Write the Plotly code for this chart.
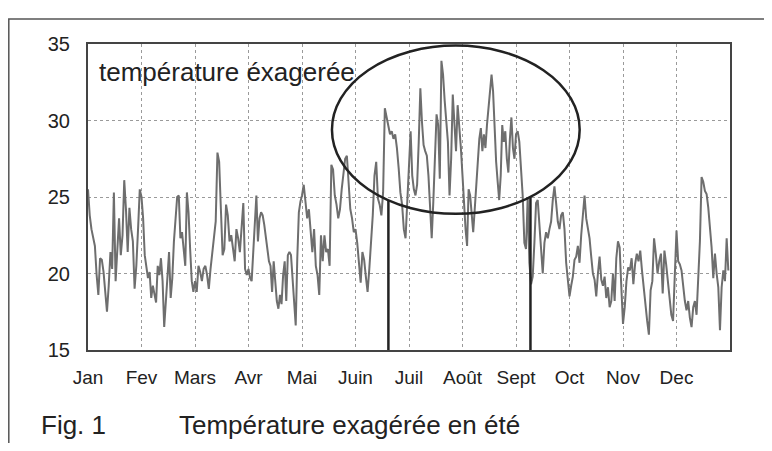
import math
import plotly.graph_objects as go

# ---- data ----
month_labels = ["Jan", "Fev", "Mars", "Avr", "Mai", "Juin", "Juil", "Août", "Sept", "Oct", "Nov", "Dec"]
y_ticks = [15, 20, 25, 30, 35]

jan = [25.5, 23.8, 22.9, 22.3, 21.8, 19.9, 18.6, 21.0, 20.9, 20.1, 19.0, 17.5, 19.2, 21.4, 20.3, 25.3,
       19.5, 22.1, 23.6, 21.2, 22.5, 26.1, 24.2, 21.4, 24.3, 22.9, 22.1, 19.0, 20.5, 22.9, 25.5]
feb = [25.0, 23.6, 21.2, 20.5, 19.7, 20.1, 18.4, 19.2, 18.6, 18.1, 20.5, 19.9, 21.0, 19.5, 16.5, 18.2,
       19.9, 21.4, 18.4, 19.7, 22.1, 23.6, 25.0, 25.1, 22.3, 22.7, 21.6, 20.5, 25.3, 24.0, 21.6, 19.5, 18.8]
mar = [19.5, 18.8, 20.5, 20.1, 19.5, 20.3, 20.5, 19.9, 19.0, 20.3, 21.4, 22.1, 23.4, 27.9, 27.3, 24.2,
       21.2, 21.6, 24.5, 23.8, 22.1, 22.5, 21.6, 20.8, 22.9, 22.3, 21.4, 22.9, 24.6, 20.3, 19.9]
apr = [20.3, 19.7, 19.5, 21.6, 23.6, 25.1, 22.1, 23.6, 24.0, 23.8, 23.2, 22.3, 21.6, 20.8, 20.5, 18.8,
       20.8, 19.5, 18.2, 17.7, 18.6, 18.0, 19.9, 20.8, 18.2, 21.2, 21.4, 21.2, 19.5, 18.0, 16.6, 21.0, 24.0, 24.7]
may = [25.1, 25.8, 24.9, 23.6, 24.2, 22.5, 21.4, 22.9, 20.5, 19.9, 18.6, 22.5, 20.8, 22.5, 21.4, 21.6,
       20.5, 27.1, 26.8, 25.1, 24.5, 23.6, 24.2, 25.5, 26.6, 27.5, 27.7, 25.8, 24.2, 23.6, 22.7]
jun = [22.9, 22.0, 20.7, 19.4, 21.4, 20.9, 19.8, 18.8, 20.3, 22.0, 23.8, 26.4, 27.3, 24.9, 24.5, 23.8,
       25.3, 30.8, 30.2, 29.5, 29.1, 29.3, 28.8, 29.1, 28.2, 26.9, 25.3, 24.5, 22.9, 22.3, 24.7]
jul = [26.9, 29.3, 26.4, 25.5, 25.1, 25.8, 28.6, 32.1, 29.9, 28.4, 28.0, 27.7, 26.4, 24.2, 22.3, 24.7,
       27.7, 30.4, 29.7, 26.2, 33.9, 33.0, 31.3, 29.9, 28.6, 25.1, 27.5, 31.7, 29.7, 28.0, 31.0, 29.7, 28.2]
aug = [26.4, 24.2, 22.9, 21.8, 25.5, 25.1, 23.8, 22.7, 24.2, 25.8, 27.7, 28.8, 29.5, 28.0, 29.1, 28.2,
       29.7, 30.8, 32.1, 33.0, 31.9, 29.3, 27.3, 26.0, 24.8, 26.4, 29.7, 28.6, 29.3, 27.5, 26.6, 28.8, 30.2, 28.2, 27.5]
sep = [29.1, 29.3, 28.6, 27.1, 25.1, 22.0, 21.6, 25.0, 20.7, 19.3, 19.8, 22.0, 24.6, 24.8, 22.9, 21.6,
       20.0, 22.0, 22.7, 22.3, 22.9, 23.4, 24.8, 25.7, 24.6, 23.4, 22.9, 23.8, 24.0, 22.9, 20.7, 19.4]
oct_ = [18.5, 19.2, 19.8, 20.9, 21.1, 21.8, 20.7, 22.5, 23.8, 25.1, 23.6, 22.9, 22.3, 21.1, 20.0, 19.6,
        18.5, 20.0, 21.1, 19.6, 19.2, 19.8, 18.4, 19.1, 17.8, 18.2, 20.0, 18.2, 21.0, 22.1, 21.7, 19.1]
nov = [16.7, 17.8, 19.5, 20.4, 20.2, 21.0, 19.3, 20.6, 21.3, 20.8, 21.5, 20.2, 19.1, 17.6, 16.9, 16.0,
       18.9, 19.5, 22.3, 21.3, 20.0, 20.8, 21.3, 18.7, 21.5, 20.6, 19.5, 18.2, 17.3, 16.9, 19.7]
dec = [22.8, 20.8, 20.6, 20.2, 19.1, 18.2, 17.6, 18.2, 17.1, 16.5, 17.8, 18.2, 17.3, 20.0, 22.1, 26.3,
       26.0, 25.4, 25.2, 24.3, 23.0, 21.7, 19.7, 21.3, 20.0, 19.1, 16.3, 19.1, 20.2, 19.5, 22.3, 20.2]

months_data = [jan, feb, mar, apr, may, jun, jul, aug, sep, oct_, nov, dec]

# summer highlight (in axis units: months / degrees)
ellipse_x = [4.56, 9.19]
ellipse_y = [23.9, 34.9]
summer_marks = [5.615, 8.27]

# ---- build series ----
xs, ys = [], []
for m, vals in enumerate(months_data):
    n = len(vals)
    for j, v in enumerate(vals):
        xs.append(m + j / n)
        ys.append(v)

FONT = "Liberation Sans, Arial, Helvetica, sans-serif"
INK = "#222222"

fig = go.Figure()
fig.add_trace(go.Scatter(x=xs, y=ys, mode="lines",
                         line=dict(color="#6e6e6e", width=2), hoverinfo="skip", showlegend=False))

cx = (ellipse_x[0] + ellipse_x[1]) / 2
cy = (ellipse_y[0] + ellipse_y[1]) / 2
rx = (ellipse_x[1] - ellipse_x[0]) / 2
ry = (ellipse_y[1] - ellipse_y[0]) / 2

shapes = [dict(type="circle", xref="x", yref="y", x0=ellipse_x[0], x1=ellipse_x[1],
               y0=ellipse_y[0], y1=ellipse_y[1], line=dict(color=INK, width=2.5), layer="above")]
for xm in summer_marks:
    ytop = cy - ry * math.sqrt(max(0.0, 1 - ((xm - cx) / rx) ** 2))
    shapes.append(dict(type="line", xref="x", yref="y", x0=xm, x1=xm, y0=y_ticks[0], y1=ytop,
                       line=dict(color=INK, width=2.5), layer="above"))

# page has an 8px body margin; figure coordinates are page coordinates minus OFF
OFF = 8
W, H = 772 - 2 * OFF, 451 - 2 * OFF
L, T = 88 - OFF, 44 - OFF
R = W - (730 - OFF)
B = H - (350 - OFF)
pw, ph = W - L - R, H - T - B
def px(x):  # page x -> paper
    return (x - OFF - L) / pw
def py(y):  # page y -> paper
    return (H - B - (y - OFF)) / ph

shapes.append(dict(type="path", xref="paper", yref="paper",
                   path=f"M {px(W + 40)},{py(19)} L {px(OFF + 0.8)},{py(19)} L {px(OFF + 0.8)},{py(H + 40)}",
                   line=dict(color="#555555", width=1.5)))

annotations = [
    dict(text="température éxagerée", xref="x", yref="y", x=0.17, y=33.2, xanchor="left",
         yanchor="middle", showarrow=False, font=dict(family=FONT, size=26, color=INK)),
    dict(text="Fig. 1", xref="paper", yref="paper", x=px(39), y=py(425), xanchor="left",
         yanchor="middle", showarrow=False, font=dict(family=FONT, size=26, color=INK)),
    dict(text="Température exagérée en été", xref="paper", yref="paper", x=px(177), y=py(425),
         xanchor="left", yanchor="middle", showarrow=False, font=dict(family=FONT, size=26, color=INK)),
]

fig.update_layout(
    width=W, height=H, autosize=False,
    margin=dict(l=L, r=R, t=T, b=B),
    paper_bgcolor="white", plot_bgcolor="white",
    shapes=shapes, annotations=annotations,
    font=dict(family=FONT, color=INK),
    xaxis=dict(range=[0, 12], tickvals=list(range(13)), ticktext=month_labels + [""],
               showgrid=True, gridcolor="#9a9a9a", griddash="dot", gridwidth=1,
               showline=True, linecolor="#444444", linewidth=2, mirror=True,
               ticks="", ticklabelstandoff=9, tickfont=dict(size=19, family=FONT, color=INK),
               zeroline=False, fixedrange=True, automargin=False),
    yaxis=dict(range=[15, 35], tickvals=y_ticks,
               showgrid=True, gridcolor="#9a9a9a", griddash="dot", gridwidth=1,
               showline=True, linecolor="#444444", linewidth=2, mirror=True,
               ticks="", ticklabelstandoff=12, tickfont=dict(size=20, family=FONT, color=INK),
               zeroline=False, fixedrange=True, automargin=False),
)

fig.write_html("out.html")
